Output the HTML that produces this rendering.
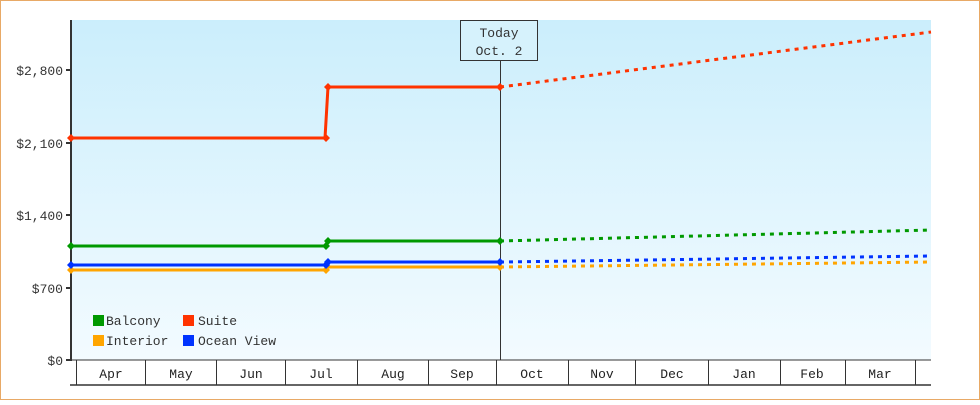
<!DOCTYPE html>
<html><head><style>
html,body{margin:0;padding:0;background:#fff}
</style></head><body>
<svg width="980" height="400" xmlns="http://www.w3.org/2000/svg" font-family="'Liberation Mono',monospace" font-size="13">
<defs><linearGradient id="g" x1="0" y1="0" x2="0" y2="1"><stop offset="0" stop-color="#cbeefc"/><stop offset="1" stop-color="#f3fbff"/></linearGradient>
<path id="d" d="M0,-4 L4,0 L0,4 L-4,0 Z"/></defs>
<rect x="0.5" y="0.5" width="979" height="399" fill="#fff" stroke="#e8a966"/>
<rect x="71" y="20" width="860" height="340" fill="url(#g)"/>
<g stroke="#333" stroke-width="2"><line x1="71" y1="20" x2="71" y2="361"/>
<line x1="66" y1="70" x2="71" y2="70"/><line x1="66" y1="143" x2="71" y2="143"/><line x1="66" y1="215" x2="71" y2="215"/><line x1="66" y1="288" x2="71" y2="288"/><line x1="66" y1="360" x2="71" y2="360"/></g>
<g fill="#333" text-anchor="end"><text x="63" y="75">$2,800</text><text x="63" y="148">$2,100</text><text x="63" y="220">$1,400</text><text x="63" y="293">$700</text><text x="63" y="365">$0</text></g>
<line x1="70" y1="360" x2="931" y2="360" stroke="#333" stroke-width="1"/>
<line x1="70" y1="385" x2="931" y2="385" stroke="#333" stroke-width="1.5"/>
<g stroke="#333" stroke-width="1"><line x1="76.5" y1="360" x2="76.5" y2="385"/><line x1="145.5" y1="360" x2="145.5" y2="385"/><line x1="216.5" y1="360" x2="216.5" y2="385"/><line x1="285.5" y1="360" x2="285.5" y2="385"/><line x1="357.5" y1="360" x2="357.5" y2="385"/><line x1="428.5" y1="360" x2="428.5" y2="385"/><line x1="496.5" y1="360" x2="496.5" y2="385"/><line x1="568.5" y1="360" x2="568.5" y2="385"/><line x1="635.5" y1="360" x2="635.5" y2="385"/><line x1="708.5" y1="360" x2="708.5" y2="385"/><line x1="780.5" y1="360" x2="780.5" y2="385"/><line x1="845.5" y1="360" x2="845.5" y2="385"/><line x1="915.5" y1="360" x2="915.5" y2="385"/></g>
<g fill="#222" text-anchor="middle"><text x="111" y="378">Apr</text><text x="181" y="378">May</text><text x="251" y="378">Jun</text><text x="321" y="378">Jul</text><text x="393" y="378">Aug</text><text x="462" y="378">Sep</text><text x="532" y="378">Oct</text><text x="602" y="378">Nov</text><text x="672" y="378">Dec</text><text x="744" y="378">Jan</text><text x="812" y="378">Feb</text><text x="880" y="378">Mar</text></g>
<line x1="500.5" y1="60" x2="500.5" y2="360" stroke="#333" stroke-width="1"/>
<rect x="460.5" y="20.5" width="77" height="40" fill="#d6f2fc" stroke="#333"/>
<g fill="#333" text-anchor="middle"><text x="499" y="37">Today</text><text x="499" y="55">Oct. 2</text></g>
<g fill="none" stroke-width="3">
<polyline stroke="#ff3300" points="71,138 325,138 328,87 500,87"/>
<polyline stroke="#009900" points="71,246 325,246 328,241 500,241"/>
<polyline stroke="#ffa500" points="71,270 325,270 328,267 500,267"/>
<polyline stroke="#0033ff" points="71,265 325,265 328,262 500,262"/>
<g stroke-dasharray="4,5">
<polyline stroke="#ff3300" points="500,87 931,32"/>
<polyline stroke="#009900" points="500,241 931,230"/>
<polyline stroke="#ffa500" points="500,267 931,262"/>
<polyline stroke="#0033ff" points="500,262 931,256"/>
</g></g>
<g>
<use href="#d" x="71" y="138" fill="#ff3300"/><use href="#d" x="326" y="138" fill="#ff3300"/><use href="#d" x="328" y="87" fill="#ff3300"/><use href="#d" x="500" y="87" fill="#ff3300"/>
<use href="#d" x="71" y="246" fill="#009900"/><use href="#d" x="326" y="246" fill="#009900"/><use href="#d" x="328" y="241" fill="#009900"/><use href="#d" x="500" y="241" fill="#009900"/>
<use href="#d" x="71" y="270" fill="#ffa500"/><use href="#d" x="326" y="270" fill="#ffa500"/><use href="#d" x="500" y="267" fill="#ffa500"/>
<use href="#d" x="71" y="265" fill="#0033ff"/><use href="#d" x="326" y="265" fill="#0033ff"/><use href="#d" x="328" y="262" fill="#0033ff"/><use href="#d" x="500" y="262" fill="#0033ff"/>
</g>
<rect x="93" y="315" width="11" height="11" fill="#009900"/><text x="106" y="325" fill="#333">Balcony</text>
<rect x="183" y="315" width="11" height="11" fill="#ff3300"/><text x="198" y="325" fill="#333">Suite</text>
<rect x="93" y="335" width="11" height="11" fill="#ffa500"/><text x="106" y="345" fill="#333">Interior</text>
<rect x="183" y="335" width="11" height="11" fill="#0033ff"/><text x="198" y="345" fill="#333">Ocean View</text>
</svg>
</body></html>
